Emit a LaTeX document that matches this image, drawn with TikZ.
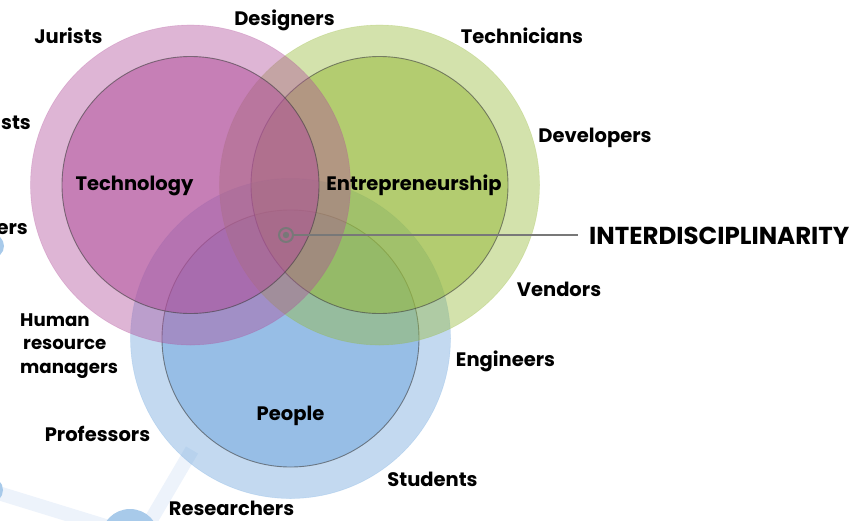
\documentclass[tikz,border=0pt]{standalone}
\usepackage{fontspec}
\setmainfont{Poppins}
\definecolor{pinkC}{HTML}{B04E9A}
\definecolor{greenC}{HTML}{96B93A}
\definecolor{blueC}{HTML}{6FA5DC}
\definecolor{bandC}{HTML}{EDF3FB}
\definecolor{blobC}{HTML}{A8CAEA}
\definecolor{markC}{HTML}{787878}
\begin{document}
\begin{tikzpicture}[x=1pt,y=-1pt,
  outerc/.style={circle, minimum size=320pt, inner sep=0pt, fill opacity=0.42, draw=#1, draw opacity=0.25, line width=0.6pt},
  innerc/.style={circle, minimum size=257pt, inner sep=0pt, fill opacity=0.53, draw=black!75, draw opacity=0.6, line width=0.9pt},
  lbl/.style={font=\fontsize{19.5}{23.5}\selectfont\bfseries, inner sep=0pt, text=black, anchor=base},
  biglbl/.style={font=\fontsize{24.5}{28}\selectfont\bfseries, inner sep=0pt, text=black, anchor=base west},
  band/.style={line width=14pt, draw=bandC},
]
\useasboundingbox (0,0) rectangle (859,520);
% background decoration
\draw[band] (-5,492) -- (125,532);
\draw[band] (192,450) -- (148,525);
\fill[blobC] (130,538) circle[radius=29pt];
\fill[blobC] (-10,490) circle[radius=13pt];
\fill[blobC] (-8,246) circle[radius=12pt];
% circles (blue bottom, green, pink top)
\node[outerc=blueC, fill=blueC] (peopleO) at (290.5,338.5) {};
\node[innerc, fill=blueC] (peopleI) at (290.5,338.5) {};
\node[outerc=greenC, fill=greenC] (entO) at (379.5,185) {};
\node[innerc, fill=greenC] (entI) at (379.5,185) {};
\node[outerc=pinkC, fill=pinkC] (techO) at (190.5,185) {};
\node[innerc, fill=pinkC] (techI) at (190.5,185) {};
% circle titles
\node[lbl] (tTech) at (134.5,190) {Technology};
\node[lbl] (tEnt) at (414,190) {Entrepreneurship};
\node[lbl] (tPeople) at (290.5,420) {People};
% interdisciplinarity marker
\node[circle, draw=markC, line width=2pt, minimum size=14pt, inner sep=0pt] (target) at (286,235) {};
\fill[markC] (target.center) circle[radius=3.2pt];
\node[biglbl] (inter) at (589,244) {INTERDISCIPLINARITY};
\draw[markC, line width=1.5pt, shorten >=11pt] (target.east) -- (target.east -| inter.west);
% surrounding labels
\node[lbl] (jurists) at (68.5,43) {Jurists};
\node[lbl] (designers) at (284.5,25) {Designers};
\node[lbl] (technicians) at (522,43) {Technicians};
\node[lbl] (developers) at (595,142) {Developers};
\node[lbl, anchor=base east] (sts) at (31,129) {sts};
\node[lbl, anchor=base east] (ers) at (28,234) {ers};
\node[lbl] (vendors) at (559,296) {Vendors};
\node[lbl] (engineers) at (505.5,366) {Engineers};
\node[lbl] (students) at (432.5,486) {Students};
\node[lbl] (researchers) at (231.5,515) {Researchers};
\node[lbl] (professors) at (97.5,441) {Professors};
\node[lbl, font=\fontsize{18.2}{23.5}\selectfont\bfseries, anchor=base west, align=left] (hrm) at (20,373) {Human\\\,resource\\managers};
\end{tikzpicture}
\end{document}
